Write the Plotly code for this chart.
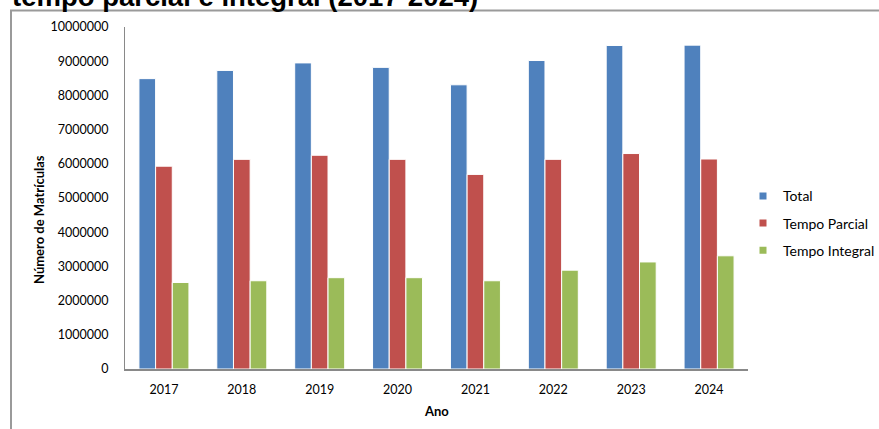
import plotly.graph_objects as go

anos = ["2017", "2018", "2019", "2020", "2021", "2022", "2023", "2024"]
total = [8490000, 8730000, 8950000, 8820000, 8310000, 9020000, 9460000, 9470000]
tempo_parcial = [5930000, 6130000, 6250000, 6130000, 5690000, 6130000, 6300000, 6140000]
tempo_integral = [2530000, 2580000, 2670000, 2670000, 2580000, 2890000, 3130000, 3310000]

series_names = ["Total", "Tempo Parcial", "Tempo Integral"]
series_values = [total, tempo_parcial, tempo_integral]
colors = ["#4F81BD", "#C0504D", "#9BBB59"]

title_text = "tempo parcial e integral (2017-2024)"
y_title = "Número de Matrículas"
x_title = "Ano"

W, H = 879, 429
L, R, T, B = 125, 131, 27, 60
pw = W - L - R
ph = H - T - B


def px_x(p):
    return (p - L) / pw


def px_y(p):
    return (H - B - p) / ph


fig = go.Figure()
for name, vals, col in zip(series_names, series_values, colors):
    fig.add_trace(go.Bar(
        x=anos, y=vals, name=name, showlegend=False,
        marker=dict(color=col, line=dict(color="white", width=1)),
    ))
# legend proxies (small squares as in the reference)
for i, (name, col) in enumerate(zip(series_names, colors)):
    fig.add_trace(go.Scatter(
        x=[None], y=[None], mode="markers", name=name,
        legendgroup=f"g{i}",
        marker=dict(symbol="square", size=7, color=col),
    ))

fig.update_layout(
    width=W, height=H,
    margin=dict(l=L, r=R, t=T, b=B, pad=0, autoexpand=False),
    paper_bgcolor="white", plot_bgcolor="white",
    barmode="group", bargap=0.358, bargroupgap=0,
    font=dict(family="Lato", size=12.5, color="black"),
    showlegend=True,
    legend=dict(
        x=px_x(743), xanchor="left", y=px_y(223.3), yanchor="middle",
        font=dict(family="Lato", size=14, color="black"),
        tracegroupgap=6, traceorder="grouped",
        bgcolor="rgba(0,0,0,0)", borderwidth=0,
    ),
    xaxis=dict(
        type="category", showgrid=False, showline=True,
        linecolor="#898989", linewidth=1.5, ticks="",
        tickfont=dict(family="Lato", size=12.5, color="black"),
        ticklabelstandoff=8, zeroline=False,
    ),
    yaxis=dict(
        range=[0, 10000000], dtick=1000000, tickformat="d",
        showgrid=False, showline=True, linecolor="#898989", linewidth=1,
        ticks="", tickfont=dict(family="Lato", size=12.5, color="black"),
        ticklabelstandoff=13, zeroline=False,
    ),
    shapes=[
        dict(type="rect", xref="paper", yref="paper",
             x0=px_x(11), x1=px_x(W + 20), y0=px_y(H + 20), y1=px_y(10.5),
             line=dict(color="#9a9a9a", width=2), fillcolor="rgba(0,0,0,0)",
             layer="below"),
    ],
    annotations=[
        dict(text=f"<b>{title_text}</b>", xref="paper", yref="paper",
             x=px_x(10), y=px_y(-4), xanchor="left", yanchor="middle",
             showarrow=False,
             font=dict(family="Liberation Sans", size=27.5, color="black")),
        dict(text=f"<b>{y_title}</b>", xref="paper", yref="paper",
             x=px_x(39), y=px_y(220), xanchor="center", yanchor="middle",
             textangle=-90, showarrow=False,
             font=dict(family="Lato", size=13, color="black")),
        dict(text=f"<b>{x_title}</b>", xref="paper", yref="paper",
             x=0.5, y=px_y(411), xanchor="center", yanchor="middle",
             showarrow=False,
             font=dict(family="Lato", size=13, color="black")),
    ],
)

fig.write_html(
    "out.html",
    config={"displayModeBar": False},
    post_script="document.body.style.margin='0px';"
                "document.documentElement.style.overflow='hidden';",
)
